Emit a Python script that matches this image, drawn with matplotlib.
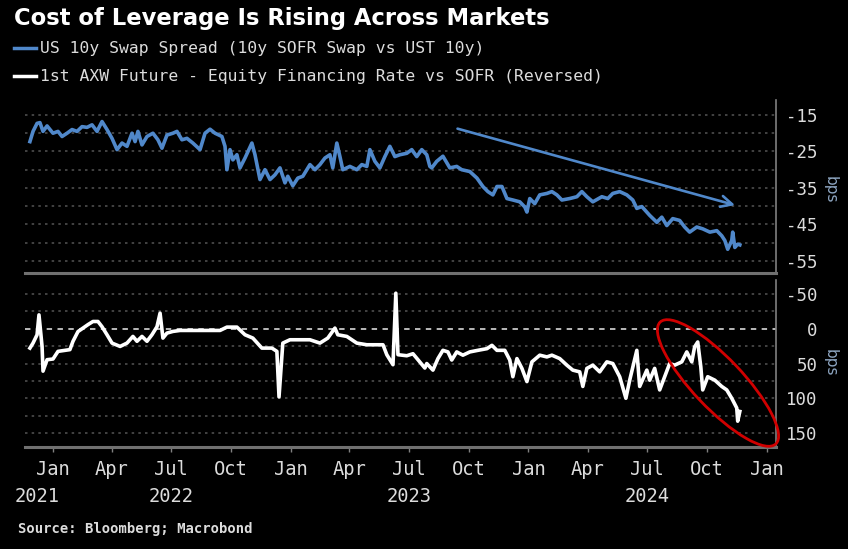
import numpy as np
import pandas as pd
import matplotlib
matplotlib.use('Agg')
import matplotlib.pyplot as plt
from matplotlib.lines import Line2D
from matplotlib.patches import Ellipse

# values, x in decimal years
swap_t = [2021.903, 2021.916, 2021.933, 2021.945, 2021.958, 2021.975, 2022.000, 2022.021, 2022.038, 2022.059,
          2022.080, 2022.101, 2022.122, 2022.143, 2022.164, 2022.185, 2022.206, 2022.227, 2022.248, 2022.269,
          2022.290, 2022.311, 2022.332, 2022.345, 2022.357, 2022.374, 2022.395, 2022.420, 2022.441, 2022.458,
          2022.479, 2022.504, 2022.521, 2022.542, 2022.563, 2022.588, 2022.618, 2022.639, 2022.660, 2022.681,
          2022.710, 2022.723, 2022.731, 2022.744, 2022.756, 2022.773, 2022.786, 2022.807, 2022.836, 2022.849,
          2022.870, 2022.891, 2022.912, 2022.933, 2022.954, 2022.975, 2022.987, 2023.008, 2023.029, 2023.050,
          2023.080, 2023.101, 2023.122, 2023.143, 2023.164, 2023.176, 2023.193, 2023.206, 2023.218, 2023.248,
          2023.277, 2023.298, 2023.319, 2023.332, 2023.353, 2023.374, 2023.395, 2023.416, 2023.437, 2023.458,
          2023.487, 2023.508, 2023.529, 2023.550, 2023.571, 2023.584, 2023.592, 2023.613, 2023.639, 2023.668,
          2023.697, 2023.718, 2023.752, 2023.782, 2023.807, 2023.828, 2023.849, 2023.866, 2023.887, 2023.908,
          2023.933, 2023.962, 2023.983, 2023.992, 2024.004, 2024.025, 2024.046, 2024.076, 2024.097, 2024.118,
          2024.139, 2024.172, 2024.202, 2024.223, 2024.244, 2024.269, 2024.307, 2024.332, 2024.353, 2024.382,
          2024.412, 2024.437, 2024.454, 2024.475, 2024.508, 2024.538, 2024.559, 2024.580, 2024.605, 2024.634,
          2024.655, 2024.676, 2024.706, 2024.731, 2024.761, 2024.790, 2024.811, 2024.824, 2024.836, 2024.853,
          2024.857, 2024.866, 2024.878, 2024.887]
swap_bp = [-22.3, -19.5, -17.3, -17.1, -19.5, -18.0, -20.0, -19.5, -20.9, -20.0,
           -19.0, -19.5, -18.2, -18.4, -17.7, -19.5, -16.8, -19.0, -21.4, -24.5,
           -22.7, -23.6, -20.0, -22.3, -19.5, -23.2, -20.9, -20.0, -21.8, -24.1,
           -20.5, -20.0, -19.5, -21.8, -21.4, -22.7, -24.5, -20.0, -18.9, -20.0,
           -20.9, -23.6, -30.0, -24.5, -27.3, -25.9, -29.5, -26.8, -22.7, -25.9,
           -32.7, -30.0, -32.7, -31.4, -29.5, -33.6, -31.8, -34.4, -32.3, -31.8,
           -28.6, -30.0, -28.6, -26.8, -25.9, -29.5, -22.7, -26.4, -30.0, -29.1,
           -30.0, -28.6, -29.1, -24.5, -27.7, -29.5, -26.4, -23.6, -26.4, -25.9,
           -25.5, -24.5, -26.4, -24.5, -25.9, -29.1, -29.5, -27.7, -26.3, -29.5,
           -29.1, -30.0, -30.5, -32.3, -34.6, -36.0, -36.9, -34.6, -34.6, -37.9,
           -38.3, -38.8, -40.2, -41.6, -37.9, -39.3, -36.9, -36.5, -36.0, -36.9,
           -38.3, -37.9, -37.4, -36.0, -37.4, -38.8, -37.4, -37.9, -36.5, -36.0,
           -36.9, -38.3, -40.6, -40.1, -42.5, -44.4, -43.0, -45.3, -43.4, -43.9,
           -45.7, -47.1, -45.7, -46.2, -47.1, -46.7, -48.1, -49.4, -51.8, -49.4,
           -47.1, -51.3, -50.4, -50.6]

axw_t = [2021.903, 2021.916, 2021.933, 2021.941, 2021.954, 2021.958, 2021.975, 2022.000, 2022.021, 2022.071,
         2022.084, 2022.105, 2022.126, 2022.147, 2022.168, 2022.189, 2022.206, 2022.227, 2022.248, 2022.282,
         2022.311, 2022.336, 2022.353, 2022.374, 2022.395, 2022.416, 2022.437, 2022.450, 2022.462, 2022.479,
         2022.504, 2022.534, 2022.702, 2022.731, 2022.773, 2022.807, 2022.840, 2022.878, 2022.920, 2022.941,
         2022.950, 2022.966, 2022.996, 2023.038, 2023.080, 2023.122, 2023.155, 2023.185, 2023.197, 2023.235,
         2023.277, 2023.319, 2023.387, 2023.403, 2023.429, 2023.441, 2023.450, 2023.487, 2023.513, 2023.534,
         2023.563, 2023.571, 2023.597, 2023.618, 2023.639, 2023.660, 2023.676, 2023.697, 2023.723, 2023.752,
         2023.786, 2023.824, 2023.845, 2023.866, 2023.899, 2023.920, 2023.933, 2023.950, 2023.971, 2023.992,
         2024.013, 2024.046, 2024.076, 2024.097, 2024.130, 2024.160, 2024.185, 2024.214, 2024.227, 2024.244,
         2024.269, 2024.298, 2024.328, 2024.353, 2024.382, 2024.408, 2024.424, 2024.454, 2024.466, 2024.496,
         2024.508, 2024.529, 2024.550, 2024.571, 2024.592, 2024.613, 2024.643, 2024.664, 2024.685, 2024.697,
         2024.710, 2024.723, 2024.731, 2024.752, 2024.782, 2024.811, 2024.832, 2024.853, 2024.874, 2024.878,
         2024.887]
axw_bp = [27.8, 20.6, 8.6, -20.0, 25.4, 61.0, 44.5, 43.5, 32.5, 30.0,
          18.0, 4.0, -1.0, -6.0, -10.5, -10.5, -3.0, 8.6, 20.6, 25.4,
          20.6, 11.0, 18.0, 11.0, 18.0, 8.6, -3.0, -22.5, 13.4, 6.2,
          3.8, 2.4, 2.4, -2.4, -2.4, 8.6, 13.4, 27.8, 27.8, 32.5,
          98.0, 20.6, 15.8, 15.8, 15.8, 20.6, 13.4, -1.0, 8.6, 11.0,
          20.6, 23.0, 23.0, 37.3, 51.7, -51.2, 37.3, 38.8, 35.9, 44.5,
          56.5, 50.0, 59.5, 42.9, 31.0, 33.3, 45.0, 33.3, 38.0, 33.3,
          31.0, 28.6, 23.8, 31.0, 31.0, 45.0, 69.0, 42.9, 57.0, 76.0,
          47.6, 38.0, 40.5, 38.0, 42.9, 52.4, 59.5, 62.0, 83.0, 57.0,
          52.4, 62.0, 47.6, 50.0, 69.0, 100.0, 74.0, 31.0, 83.0, 59.5,
          74.0, 57.0, 88.0, 69.0, 50.0, 52.4, 47.6, 33.3, 47.6, 26.0,
          19.0, 55.0, 88.0, 69.0, 74.0, 83.0, 88.0, 100.0, 114.0, 133.0,
          119.0]

top_ticks = [-15, -25, -35, -45, -55]
bottom_ticks = [-50, 0, 50, 100, 150]
month_names = ['Jan', 'Apr', 'Jul', 'Oct']
year_labels = ['2021', '2022', '2023', '2024']
year_label_dates = ['2021-12-08', '2022-07-01', '2023-07-01', '2024-07-01']


def to_dates(t):
    t = np.asarray(t)
    return pd.Timestamp('2022-01-01') + pd.to_timedelta((t - 2022) * 365.25, unit='D')


BLUE = '#5088ca'
GRID = '#4d4d4d'
TXT = '#dcdcdc'
MONO = 'DejaVu Sans Mono'

fig = plt.figure(figsize=(8.48, 5.49), dpi=100, facecolor='black')
ax1 = fig.add_axes([25 / 848, 1 - 273 / 549, 751 / 848, 173 / 549], facecolor='black')
ax2 = fig.add_axes([25 / 848, 1 - 446.7 / 549, 751 / 848, 166.7 / 549], facecolor='black', sharex=ax1)

ax1.plot(to_dates(swap_t), swap_bp, color=BLUE, lw=2.6, solid_joinstyle='round')
ax2.plot(to_dates(axw_t), axw_bp, color='white', lw=2.6, solid_joinstyle='round')

ax1.set_ylim(-58.3, -10.9)
ax2.set_ylim(169.7, -70.2)
ax1.set_xlim(pd.Timestamp('2021-11-19'), pd.Timestamp('2025-01-15'))

# gridlines every 5 / 25 bps
for v in np.arange(-55, -14, 5):
    ax1.axhline(v, color=GRID, lw=1.2, ls=(0, (1.5, 2.5)), zorder=0)
for v in np.arange(-50, 151, 25):
    if v == 0:
        ax2.axhline(0, color='#c8c8c8', lw=1.3, ls=(0, (3, 3)), zorder=0)
    else:
        ax2.axhline(v, color=GRID, lw=1.2, ls=(0, (1.5, 2.5)), zorder=0)

for ax, ticks in [(ax1, top_ticks), (ax2, bottom_ticks)]:
    for s in ['top', 'left']:
        ax.spines[s].set_visible(False)
    ax.spines['right'].set_color('#808080')
    ax.spines['right'].set_linewidth(1.2)
    ax.spines['bottom'].set_color('#707070')
    ax.spines['bottom'].set_linewidth(2.2)
    ax.yaxis.tick_right()
    ax.set_yticks(ticks)
    ax.set_yticklabels([str(t) for t in ticks])
    ax.tick_params(axis='y', length=0, pad=30, labelsize=12.5, labelcolor=TXT)
    for lab in ax.get_yticklabels():
        lab.set_ha('right')
        lab.set_family(MONO)

ax1.tick_params(axis='x', bottom=False, labelbottom=False)

qdates = pd.date_range('2022-01-01', '2025-01-01', freq='QS')
ax2.set_xticks(qdates)
ax2.set_xticklabels([month_names[(d.month - 1) // 3] for d in qdates])
ax2.tick_params(axis='x', length=3.5, width=1, color='#808080', pad=6, labelsize=13.5, labelcolor=TXT)
for lab in ax2.get_xticklabels():
    lab.set_family(MONO)

for lbl, d in zip(year_labels, year_label_dates):
    ax2.text(pd.Timestamp(d), -0.30, lbl, transform=ax2.get_xaxis_transform(), ha='center', va='center',
             color=TXT, fontsize=13.5, family=MONO)

# trend arrow
ax1.annotate('', xy=(to_dates([2024.878])[0], -39.9), xytext=(to_dates([2023.689])[0], -18.55),
             arrowprops=dict(arrowstyle='->,head_length=0.8,head_width=0.4', color=BLUE, lw=1.9))

# red ellipse round the latest move
fig.add_artist(Ellipse((7.18, 1.66), width=1.68, height=0.50, angle=-46.5, transform=fig.dpi_scale_trans,
                       fill=False, ec='#d00000', lw=2.0))

fig.text(830 / 848, 1 - 190 / 549, 'bps', rotation=270, ha='center', va='center', color='#8ea6c2', fontsize=11)
fig.text(830 / 848, 1 - 363 / 549, 'bps', rotation=270, ha='center', va='center', color='#8ea6c2', fontsize=11)

fig.text(14 / 848, 1 - 18 / 549, 'Cost of Leverage Is Rising Across Markets', ha='left', va='center',
         color='white', fontsize=16.3, fontweight='bold', family='DejaVu Sans')
fig.add_artist(Line2D([14 / 848, 36 / 848], [1 - 48 / 549] * 2, color=BLUE, lw=2.5))
fig.add_artist(Line2D([14 / 848, 36 / 848], [1 - 76 / 549] * 2, color='white', lw=2.5))
fig.text(40 / 848, 1 - 48 / 549, 'US 10y Swap Spread (10y SOFR Swap vs UST 10y)', ha='left', va='center',
         color=TXT, fontsize=11.8, family=MONO)
fig.text(40 / 848, 1 - 76 / 549, '1st AXW Future - Equity Financing Rate vs SOFR (Reversed)', ha='left',
         va='center', color=TXT, fontsize=11.8, family=MONO)
fig.text(18 / 848, 1 - 529 / 549, 'Source: Bloomberg; Macrobond', ha='left', va='center', color=TXT,
         fontsize=10, fontweight='bold', family=MONO)

fig.savefig('out.png', dpi=100, facecolor='black')
